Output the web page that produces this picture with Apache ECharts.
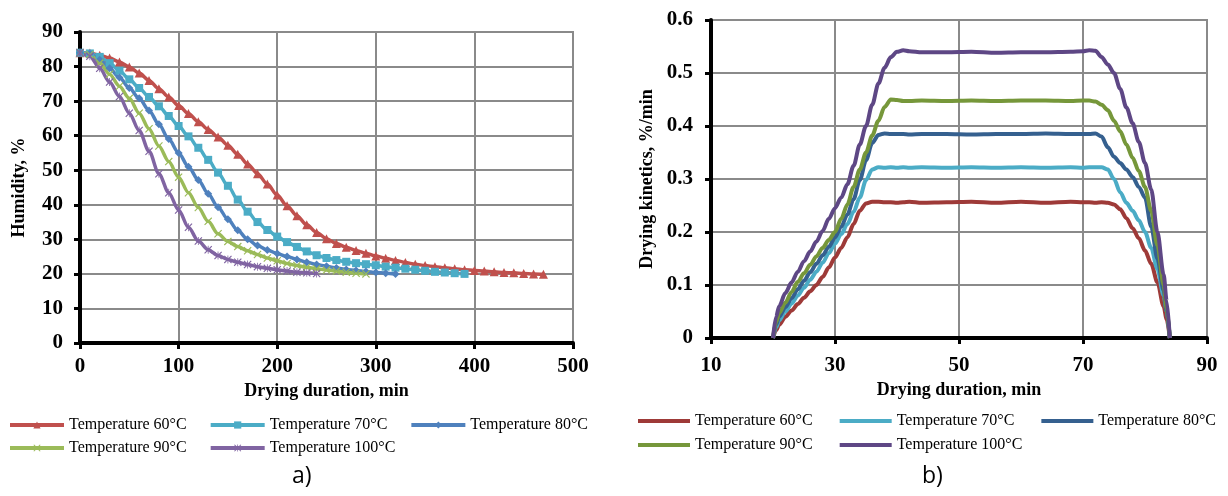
<!DOCTYPE html>
<html>
<head>
<meta charset="utf-8">
<script src="https://cdn.jsdelivr.net/npm/echarts@6/dist/echarts.min.js"></script>
<style>
  html, body { margin: 0; padding: 0; background: #fff; }
  #left { position: absolute; left: 0; top: 0; width: 614px; height: 496px; }
  #right { position: absolute; left: 614px; top: 0; width: 614px; height: 496px; }
</style>
</head>
<body>
<div id="left"></div>
<div id="right"></div>
<script>
  // a) humidity, every 10 min starting at 0
  var names = ['Temperature 60°C', 'Temperature 70°C', 'Temperature 80°C', 'Temperature 90°C', 'Temperature 100°C'];
  var humidity60 = [84, 83.9, 83.3, 82.5, 81.3, 79.9, 78.1, 76, 73.6, 71.2, 68.7, 66.4, 64, 61.8, 59.6, 57.2, 54.6, 51.8, 49, 46,
    42.8, 39.7, 36.8, 34.2, 32, 30.2, 28.8, 27.7, 26.8, 26, 25.2, 24.5, 23.9, 23.3, 22.8, 22.4, 22.1, 21.8, 21.5, 21.2,
    21, 20.8, 20.6, 20.4, 20.3, 20.1, 20, 19.9];
  var humidity70 = [84, 83.8, 82.8, 81, 78.8, 76.3, 73.8, 71.2, 68.5, 65.7, 62.8, 59.8, 56.5, 53, 49.3, 45.5, 41.5, 38, 35, 32.7,
    30.8, 29.2, 27.8, 26.5, 25.4, 24.6, 24, 23.5, 23.1, 22.8, 22.5, 22.1, 21.8, 21.5, 21.2, 20.9, 20.6, 20.4, 20.2, 20];
  var humidity80 = [84, 83.7, 82, 79.5, 76.8, 73.8, 70.8, 67.3, 63.3, 59, 55, 51, 47.2, 43.2, 39.3, 35.8, 32.6, 30, 28.2, 26.9,
    25.9, 25, 24.2, 23.4, 22.7, 22.2, 21.7, 21.3, 21, 20.7, 20.4, 20.2, 20];
  var humidity90 = [84, 83.5, 81, 77.8, 74.3, 70.8, 66.5, 62, 57, 52.5, 48, 43.5, 39.2, 35.2, 31.6, 29.4, 27.9, 26.7, 25.6, 24.6,
    23.8, 23, 22.4, 21.9, 21.5, 21.1, 20.8, 20.5, 20.2, 20];
  var humidity100 = [84, 83, 79.5, 75.5, 71.3, 66.5, 61.5, 55.5, 49, 43.5, 38.5, 33.5, 29.5, 27, 25.3, 24.2, 23.4, 22.7, 22.1, 21.6,
    21.2, 20.8, 20.5, 20.3, 20.1];

  // b) drying kinetics
  var timeB = [20, 20.5, 21, 22, 23, 24, 25, 26, 27, 28, 29, 30, 31, 32, 33, 34, 35, 36, 37, 38, 39, 40, 41, 42, 44, 48, 52, 56, 60, 64, 68,
    70, 71, 72, 73, 74, 75, 76, 77, 78, 79, 80, 81, 82, 83, 83.5, 84];
  var rate60 = [0, 0.015, 0.025, 0.04, 0.052, 0.064, 0.076, 0.088, 0.1, 0.115, 0.133, 0.152, 0.17, 0.19, 0.215, 0.24, 0.254, 0.257, 0.257, 0.256, 0.256, 0.255, 0.256, 0.257, 0.255, 0.256, 0.257, 0.255, 0.257, 0.255, 0.257,
    0.256, 0.256, 0.255, 0.256, 0.255, 0.252, 0.243, 0.226, 0.207, 0.188, 0.165, 0.14, 0.105, 0.06, 0.035, 0];
  var rate70 = [0, 0.02, 0.033, 0.05, 0.065, 0.08, 0.095, 0.11, 0.125, 0.142, 0.16, 0.178, 0.196, 0.215, 0.238, 0.265, 0.298, 0.318, 0.322, 0.321, 0.322, 0.321, 0.322, 0.321, 0.322, 0.321, 0.322, 0.321, 0.322, 0.321, 0.322,
    0.321, 0.322, 0.322, 0.322, 0.318, 0.3, 0.275, 0.255, 0.24, 0.222, 0.2, 0.17, 0.13, 0.08, 0.05, 0];
  var rate80 = [0, 0.025, 0.04, 0.058, 0.075, 0.092, 0.108, 0.124, 0.14, 0.156, 0.172, 0.19, 0.21, 0.233, 0.262, 0.298, 0.335, 0.368, 0.383, 0.386, 0.385, 0.385, 0.385, 0.384, 0.385, 0.385, 0.384, 0.385, 0.385, 0.386, 0.385,
    0.385, 0.385, 0.386, 0.38, 0.36, 0.342, 0.33, 0.318, 0.304, 0.285, 0.265, 0.21, 0.15, 0.09, 0.05, 0];
  var rate90 = [0, 0.03, 0.047, 0.067, 0.087, 0.106, 0.122, 0.138, 0.154, 0.17, 0.185, 0.2, 0.225, 0.252, 0.285, 0.318, 0.35, 0.382, 0.41, 0.436, 0.45, 0.449, 0.447, 0.447, 0.448, 0.447, 0.448, 0.447, 0.448, 0.448, 0.447,
    0.448, 0.448, 0.446, 0.44, 0.43, 0.41, 0.39, 0.365, 0.34, 0.315, 0.285, 0.24, 0.175, 0.1, 0.055, 0];
  var rate100 = [0, 0.04, 0.06, 0.085, 0.105, 0.125, 0.145, 0.163, 0.182, 0.202, 0.225, 0.245, 0.265, 0.29, 0.325, 0.365, 0.4, 0.44, 0.48, 0.51, 0.53, 0.54, 0.543, 0.541, 0.539, 0.539, 0.54, 0.538, 0.539, 0.539, 0.54,
    0.541, 0.543, 0.542, 0.53, 0.516, 0.5, 0.47, 0.435, 0.405, 0.37, 0.33, 0.28, 0.2, 0.12, 0.07, 0];

  var colorsA = ['#C0504D', '#4BACC6', '#4F81BD', '#9BBB59', '#8064A2'];
  var colorsB = ['#9E3A38', '#4BACC6', '#35608F', '#76973A', '#5E4785'];
  var crossPath = 'path://M0,1 L1,0 L5,4 L9,0 L10,1 L6,5 L10,9 L9,10 L5,6 L1,10 L0,9 L4,5 Z';
  var starPath = 'path://M0,1 L1,0 L4.5,3.5 L4.5,0 L5.5,0 L5.5,3.5 L9,0 L10,1 L6,5 L10,9 L9,10 L5.5,6.5 L5.5,10 L4.5,10 L4.5,6.5 L1,10 L0,9 L4,5 Z';
  var symbolsA = ['triangle', 'rect', 'diamond', crossPath, starPath];

  var serif = 'Liberation Serif';

  function withTime(values, step) {
    return values.map(function (v, i) { return [i * step, v]; });
  }
  function pairs(xs, ys) {
    return ys.map(function (v, i) { return [xs[i], v]; });
  }

  function axisCommon(extra) {
    var a = {
      type: 'value',
      nameLocation: 'middle',
      nameTextStyle: { fontFamily: serif, fontWeight: 'bold', fontSize: 18, color: '#000' },
      axisLine: { show: true, onZero: false, lineStyle: { color: '#000', width: 4 } },
      axisTick: { show: true, length: 6, lineStyle: { color: '#000', width: 3 } },
      splitLine: { show: true, lineStyle: { color: '#8a8a8a', width: 2 } }
    };
    for (var k in extra) a[k] = extra[k];
    return a;
  }
  function tickLabels(margin) {
    return { fontFamily: serif, fontWeight: 'bold', fontSize: 21, color: '#000', margin: margin };
  }

  // one legend per row so the item spacing can be matched
  function legendRows(left, top, rowGap, gap, opts) {
    return [names.slice(0, 3), names.slice(3)].map(function (row, r) {
      var l = { left: left, top: top + r * rowGap, itemGap: gap, padding: 0, data: row,
        textStyle: { fontFamily: serif, fontSize: 16, color: '#000' } };
      for (var k in opts) l[k] = opts[k];
      return l;
    });
  }

  var leftChart = echarts.init(document.getElementById('left'));
  var humidity = [humidity60, humidity70, humidity80, humidity90, humidity100];
  leftChart.setOption({
    animation: false,
    grid: { left: 80, right: 41, top: 32, bottom: 153, show: true, borderColor: '#8a8a8a', borderWidth: 2 },
    xAxis: axisCommon({ min: 0, max: 500, interval: 100, name: 'Drying duration, min', nameGap: 35, axisLabel: tickLabels(13) }),
    yAxis: axisCommon({ min: 0, max: 90, interval: 10, name: 'Humidity, %', nameGap: 52, axisLabel: tickLabels(17) }),
    legend: legendRows(8, 417, 23, 22, { itemWidth: 54, itemHeight: 9, lineStyle: { width: 4 } }),
    graphic: [{ type: 'text', left: 292, top: 465, style: { text: 'a)', fontFamily: 'Open Sans', fontSize: 23, fill: '#000' } }],
    series: humidity.map(function (vals, i) {
      return {
        name: names[i], type: 'line', smooth: 0.3, smoothMonotone: 'x',
        data: withTime(vals, 10),
        symbol: symbolsA[i], symbolSize: i === 0 ? 9 : 8,
        itemStyle: { color: colorsA[i] },
        lineStyle: { color: colorsA[i], width: 3.5 }
      };
    })
  });

  var rightChart = echarts.init(document.getElementById('right'));
  var rates = [rate60, rate70, rate80, rate90, rate100];
  rightChart.setOption({
    animation: false,
    grid: { left: 97, right: 21, top: 20, bottom: 158, show: true, borderColor: '#8a8a8a', borderWidth: 2 },
    xAxis: axisCommon({ min: 10, max: 90, interval: 20, name: 'Drying duration, min', nameGap: 40, axisLabel: tickLabels(17) }),
    yAxis: axisCommon({ min: 0, max: 0.6, interval: 0.1, name: 'Drying kinetics, %/min', nameGap: 51, axisLabel: tickLabels(18) }),
    legend: legendRows(24, 413, 24, 27, { itemWidth: 52, itemHeight: 14, icon: 'path://M0,5 L52,5 L52,9 L0,9 Z' }),
    graphic: [{ type: 'text', left: 308, top: 465, style: { text: 'b)', fontFamily: 'Open Sans', fontSize: 23, fill: '#000' } }],
    series: rates.map(function (vals, i) {
      return {
        name: names[i], type: 'line', smooth: 0.3, smoothMonotone: 'x',
        data: pairs(timeB, vals), showSymbol: false,
        itemStyle: { color: colorsB[i] },
        lineStyle: { color: colorsB[i], width: 4 }
      };
    })
  });
</script>
</body>
</html>
